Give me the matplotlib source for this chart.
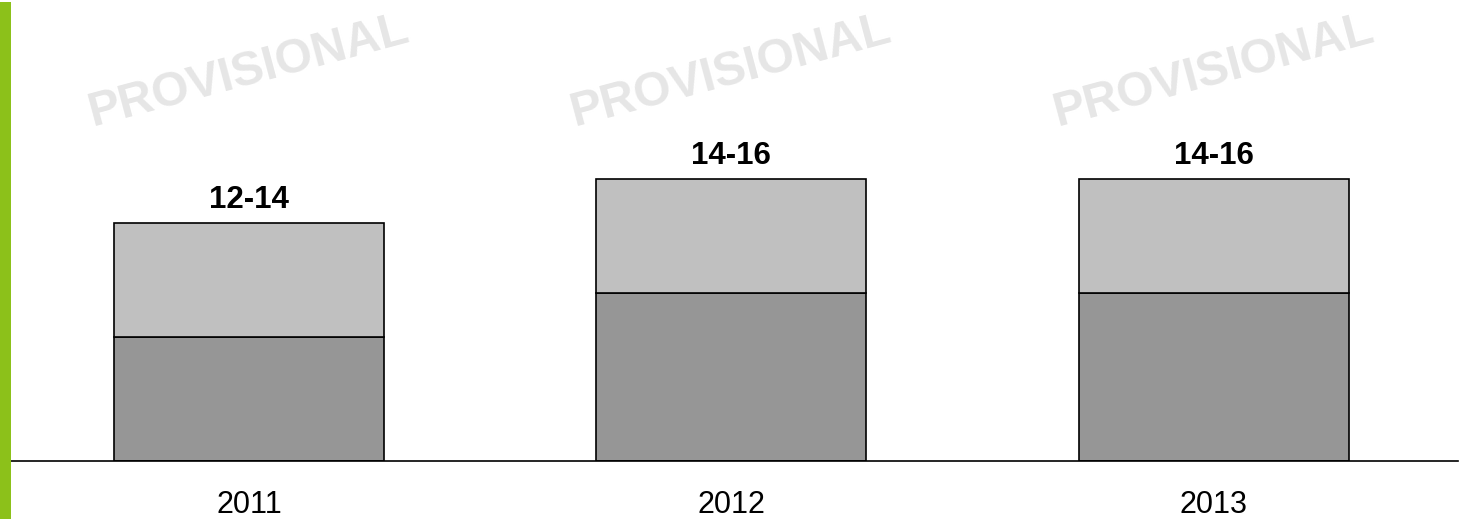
import matplotlib
matplotlib.use("Agg")
import matplotlib.pyplot as plt
from matplotlib.patches import Rectangle
import matplotlib.transforms as mtransforms

years = ["2011", "2012", "2013"]
lower = [12.4, 16.8, 16.8]      # dark lower segment
band = [11.4, 11.4, 11.4]       # light upper segment (range)
range_labels = ["12-14", "14-16", "14-16"]
watermark = "PROVISIONAL"

plt.rcParams['font.family'] = ['Liberation Sans', 'DejaVu Sans']

W, H = 1466, 519
fig = plt.figure(figsize=(W / 100, H / 100), dpi=100)
ax = fig.add_axes([11 / W, 58 / H, (1458 - 11) / W, (H - 58) / H])

x = list(range(len(years)))
width = 0.56
ax.bar(x, lower, width=width, color='#969696', edgecolor='black', linewidth=1.2, zorder=2)
ax.bar(x, band, width=width, bottom=lower, color='#c0c0c0', edgecolor='black', linewidth=1.2, zorder=2)

ax.set_xlim(-0.494, 2.507)
ax.set_ylim(0, 46.1)
for s in ['top', 'right', 'left']:
    ax.spines[s].set_visible(False)
ax.spines['bottom'].set_linewidth(1.2)
ax.spines['bottom'].set_zorder(3)
ax.set_xticks([])
ax.set_yticks([])

trans = mtransforms.blended_transform_factory(ax.transData, fig.transFigure)
for i in x:
    top = lower[i] + band[i]
    ax.annotate(range_labels[i], xy=(i, top), xytext=(0, 10.5), textcoords='offset points',
                ha='center', va='baseline', fontsize=22.5, fontweight='bold', color='black')
    ax.annotate(years[i], xy=(i, 0), xytext=(0, -37.5), textcoords='offset points',
                ha='center', va='baseline', fontsize=22, color='black', annotation_clip=False)
    ax.text(i, 1 - 71 / H, watermark, transform=trans, rotation=15, rotation_mode='anchor',
            ha='center', va='center', fontsize=34.5, fontweight='bold', color='#e6e6e6', zorder=0)

# green accent bar at the left edge
fig.patches.append(Rectangle((0, 0), 11 / W, 1 - 2 / H, transform=fig.transFigure,
                             facecolor='#8cc11a', edgecolor='none', zorder=5))

fig.savefig('out.png', dpi=100)
